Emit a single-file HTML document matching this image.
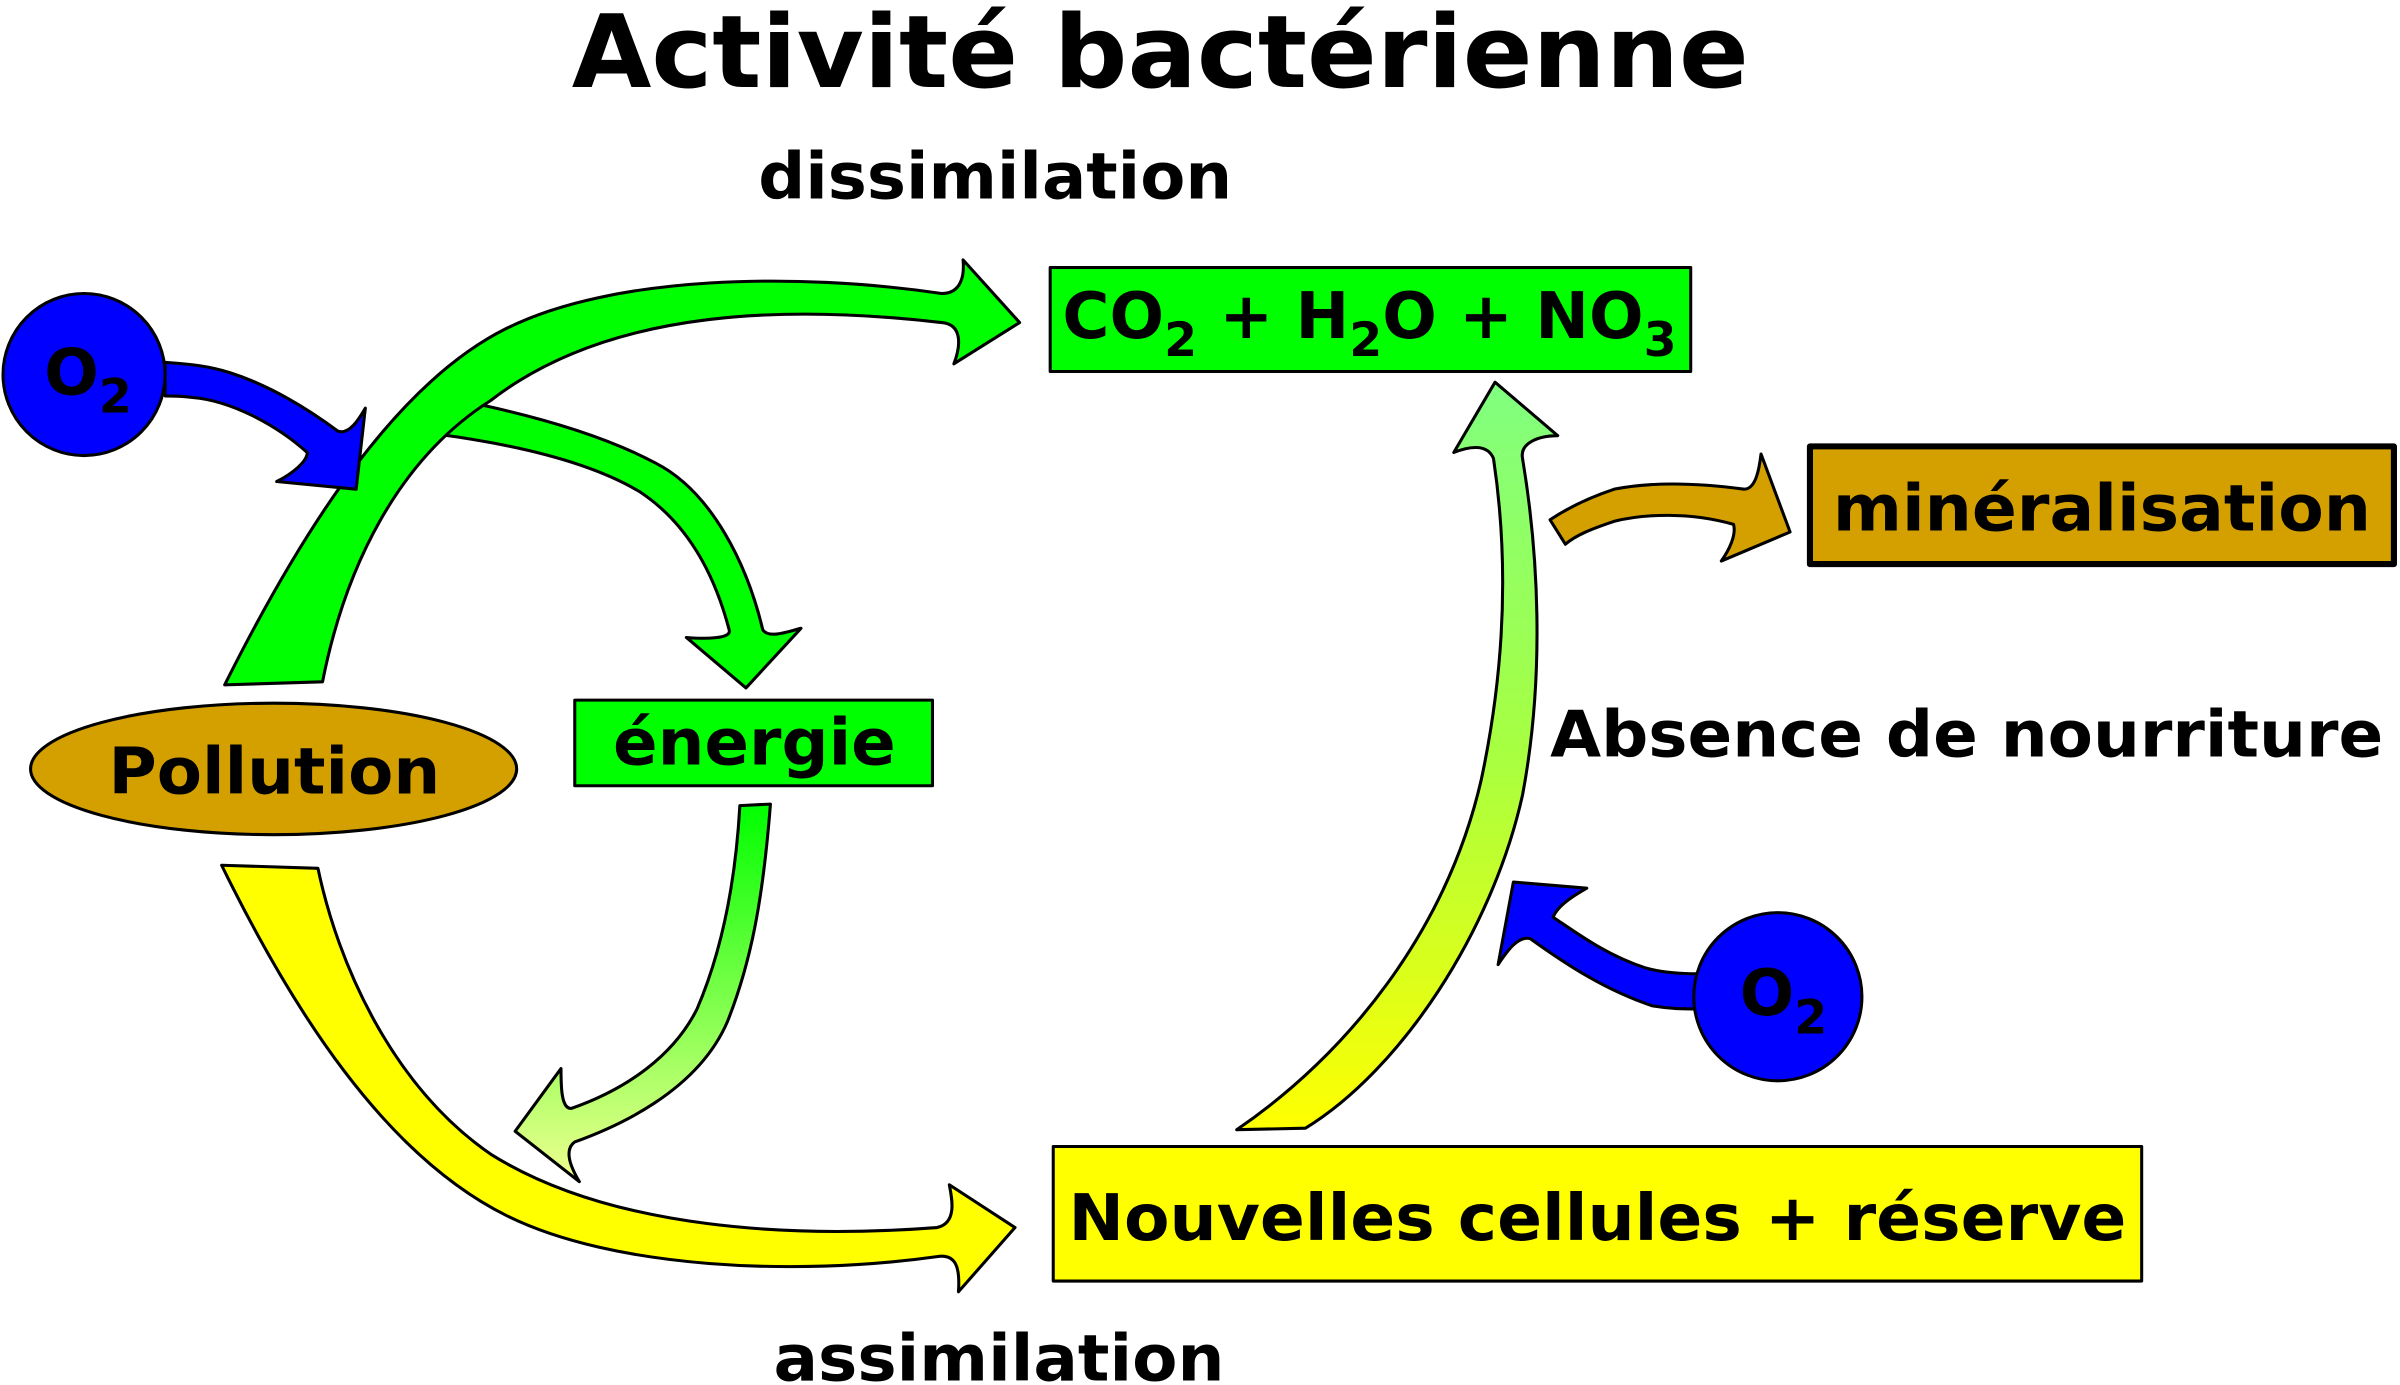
<!DOCTYPE html>
<html><head><meta charset="utf-8"><style>
html,body{margin:0;padding:0;background:#fff}
svg{display:block}
text{font-family:"DejaVu Sans","Liberation Sans",sans-serif;font-weight:bold;fill:#000}
</style></head><body>
<svg width="2400" height="1385" viewBox="0 0 1568 906" xmlns="http://www.w3.org/2000/svg">
<defs>
<linearGradient id="g1" x1="0" y1="0" x2="0" y2="1">
<stop offset="0" stop-color="#00ff00"/><stop offset="1" stop-color="#f0ff90"/></linearGradient>
<linearGradient id="g2" x1="0" y1="0" x2="0" y2="1">
<stop offset="0" stop-color="#80ff80"/><stop offset="0.5" stop-color="#a8ff40"/><stop offset="1" stop-color="#ffff00"/></linearGradient>
</defs>
<g stroke="#000" stroke-width="2" stroke-linejoin="round">
<path fill="#00ff00" d="M300,262 C360,274 400,288 428,303 C465,322 488,370 498,412 C502,418 515,413 523,411 L487,450 L448,417 C460,418 478,418 476,412 C465,370 445,340 418,322 C390,305 345,292 285,284 Z"/>
<path fill="#00ff00" d="M146,448 C200,340 260,250 330,215 C400,180 520,178 615,192 C628,192 630,180 629,170 L666,211 L623,238 C628,225 628,212 615,211 C520,200 400,200 320,262 C260,300 225,370 210,446 Z"/>
<path fill="#0000ff" d="M107,237 C120,238 135,239 150,244 C175,252 200,267 220,282 C228,285 235,272 238,267 L232,320 L180,315 C190,310 200,302 200,296 C180,278 150,262 125,260 C118,259 110,259 107,259 Z"/>
<path fill="#ffff00" d="M144,566 L207,568 C220,630 255,710 320,755 C400,805 520,810 612,803 C625,800 622,785 620,775 L663,803 L626,845 C627,830 625,820 612,822 C520,835 400,830 330,795 C250,755 190,660 144,566 Z"/>
<path fill="url(#g1)" d="M483,527 L503,526 C498,590 490,630 475,668 C455,715 400,738 375,747 C368,752 372,763 378,773 L336,740 L366,699 C366,710 366,726 373,725 C410,712 440,690 455,660 C470,625 480,580 483,527 Z"/>
<path fill="url(#g2)" d="M808,739 C880,690 945,610 968,510 C985,430 985,360 976,300 C972,290 960,292 950,296 L977,250 L1018,285 C1005,285 993,290 995,300 C1005,360 1010,440 995,520 C975,610 915,700 853,738 Z"/>
<path fill="#0000ff" d="M1110,637 C1098,637 1085,636 1075,633 C1050,625 1030,610 1015,600 C1018,592 1030,585 1037,581 L989,577 L979,631 C985,622 992,612 1000,614 C1025,632 1050,648 1080,658 C1092,660 1100,660 1110,660 Z"/>
<path fill="#d4a000" d="M1013,340 C1025,332 1040,325 1055,320 C1080,315 1110,316 1140,320 C1148,320 1150,305 1151,297 L1170,348 L1125,367 C1130,360 1135,350 1133,343 C1105,335 1075,336 1055,341 C1040,346 1030,350 1023,356 Z"/>
<rect x="686" y="175" width="419" height="68" fill="#00ff00"/>
<rect x="375" y="458" width="234" height="56" fill="#00ff00"/>
<rect x="688" y="750" width="712" height="88" fill="#ffff00"/>
<rect x="1183" y="292" width="382" height="77" fill="#d4a000" stroke-width="4"/>
<ellipse cx="178" cy="503" rx="159" ry="43" fill="#d4a000"/>
<circle cx="54" cy="245" r="53" fill="#0000ff"/>
<circle cx="1162" cy="652" r="55" fill="#0000ff"/>
</g>
<text x="373" y="57" font-size="66" textLength="770" lengthAdjust="spacingAndGlyphs">Activité bactérienne</text>
<text x="495" y="130" font-size="42" textLength="310" lengthAdjust="spacingAndGlyphs">dissimilation</text>
<text x="505" y="903" font-size="42" textLength="295" lengthAdjust="spacingAndGlyphs">assimilation</text>
<text x="1013" y="495" font-size="42" textLength="545" lengthAdjust="spacingAndGlyphs">Absence de nourriture</text>
<text x="1198" y="347" font-size="42" textLength="352" lengthAdjust="spacingAndGlyphs">minéralisation</text>
<text x="400" y="500" font-size="42" textLength="185" lengthAdjust="spacingAndGlyphs">énergie</text>
<text x="70" y="519" font-size="42" textLength="217" lengthAdjust="spacingAndGlyphs">Pollution</text>
<text x="698" y="811" font-size="42" textLength="692" lengthAdjust="spacingAndGlyphs">Nouvelles cellules + réserve</text>
<text x="694" y="221" font-size="42">CO<tspan font-size="31" dy="12">2</tspan><tspan dy="-12"> + H</tspan><tspan font-size="31" dy="12">2</tspan><tspan dy="-12">O + NO</tspan><tspan font-size="31" dy="12">3</tspan></text>
<text x="28" y="258" font-size="42">O<tspan font-size="31" dy="12">2</tspan></text>
<text x="1137" y="664" font-size="42">O<tspan font-size="31" dy="12">2</tspan></text>
</svg>
</body></html>
